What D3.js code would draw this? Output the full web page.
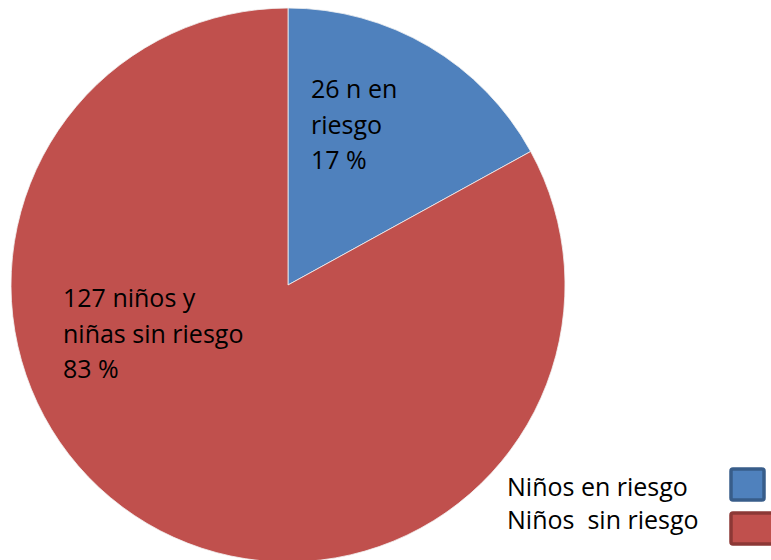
<!DOCTYPE html>
<html>
<head>
<meta charset="utf-8">
<script src="https://cdn.jsdelivr.net/npm/d3@7"></script>
<style>
  body { margin: 0; background: #fff; }
  svg { display: block; font-family: "Open Sans", sans-serif; }
</style>
</head>
<body>
<div class="chart"></div>
<script>
var categories = ["Niños en riesgo", "Niños  sin riesgo"];
var values = [26, 127];
var sliceLabels = [
    ["26 n en", "riesgo", "17 %"],
    ["127 niños y", "niñas sin riesgo", "83 %"]
];
var colors = ["#4F81BD", "#C0504D"];
var borders = ["#385D8A", "#8C3836"];

var width = 771, height = 560;
var cx = 288, cy = 285, radius = 277;
var fontSize = "25px";

var svg = d3.select(".chart")
    .append("svg")
    .attr("width", width)
    .attr("height", height);

var pie = d3.pie().sort(null).value(function (d) { return d; });
var arcs = pie(values);
var arc = d3.arc().innerRadius(0).outerRadius(radius);

var g = svg.append("g")
    .attr("transform", "translate(" + cx + "," + cy + ")");

g.selectAll("path")
    .data(arcs)
    .enter()
    .append("path")
    .attr("d", arc)
    .attr("fill", function (d, i) { return colors[i]; })
    .attr("stroke", "#f2f2f2")
    .attr("stroke-width", 0.8);

// slice labels, placed where the original sits them
var labelPos = [[311, 98], [63, 307]];
var lineH = 35.5;
sliceLabels.forEach(function (lines, i) {
    var t = svg.append("text")
        .attr("x", labelPos[i][0])
        .attr("y", labelPos[i][1])
        .style("font-size", fontSize)
        .attr("fill", "#000");
    lines.forEach(function (s, j) {
        t.append("tspan")
            .attr("x", labelPos[i][0])
            .attr("y", labelPos[i][1] + j * lineH)
            .text(s);
    });
});

// legend
var legend = svg.append("g").attr("class", "legend");
var legY = [496, 529];
var swatchY = [469, 513];
categories.forEach(function (c, i) {
    legend.append("text")
        .attr("x", 507)
        .attr("y", legY[i])
        .style("font-size", fontSize)
        .style("white-space", "pre")
        .attr("fill", "#000")
        .text(c);
    legend.append("rect")
        .attr("x", 731)
        .attr("y", swatchY[i])
        .attr("width", i == 0 ? 33 : 45)
        .attr("height", 31)
        .attr("rx", 2)
        .attr("fill", colors[i])
        .attr("stroke", borders[i])
        .attr("stroke-width", 3.5);
});
</script>
</body>
</html>
